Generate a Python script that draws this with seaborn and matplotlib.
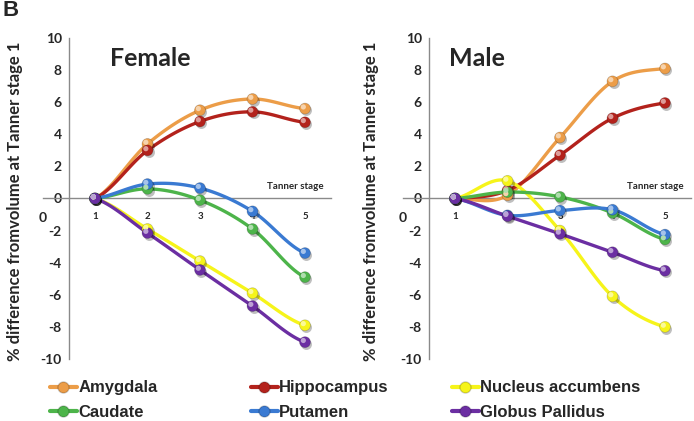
import numpy as np
import pandas as pd
import matplotlib
matplotlib.use("Agg")
import matplotlib.pyplot as plt
import matplotlib.transforms as mtransforms
import matplotlib.colors as mcolors
import seaborn as sns
from matplotlib.lines import Line2D

# ---------------- data ----------------
stages = [1, 2, 3, 4, 5]
regions = ["Amygdala", "Hippocampus", "Nucleus accumbens",
           "Caudate", "Putamen", "Globus Pallidus"]
colors = ["#EC9D48", "#B3221C", "#F6F41A", "#4DB44A", "#3A7AD2", "#6B2EA2"]

female_amygdala = [0, 3.4, 5.5, 6.2, 5.6]
female_hippocampus = [0, 3.0, 4.8, 5.4, 4.75]
female_nacc = [0, -1.9, -3.9, -5.9, -7.9]
female_caudate = [0, 0.6, -0.1, -1.9, -4.9]
female_putamen = [0, 0.9, 0.65, -0.8, -3.4]
female_gp = [0, -2.15, -4.45, -6.7, -8.95]

male_amygdala = [0, 0.2, 3.8, 7.3, 8.1]
male_hippocampus = [0, 0.5, 2.7, 5.0, 5.95]
male_nacc = [0, 1.1, -2.0, -6.1, -8.0]
male_caudate = [0, 0.4, 0.1, -0.9, -2.55]
male_putamen = [0, -1.05, -0.75, -0.7, -2.25]
male_gp = [0, -1.1, -2.2, -3.35, -4.5]

yticks = list(range(-10, 11, 2))
xtick_labels = ["0", "1", "2", "3", "4", "5"]
ylabel = "% difference fromvolume at Tanner stage 1"

female = [female_amygdala, female_hippocampus, female_nacc,
          female_caudate, female_putamen, female_gp]
male = [male_amygdala, male_hippocampus, male_nacc,
        male_caudate, male_putamen, male_gp]


def smooth(xs, ys, n=25):
    """Catmull-Rom curve through the points (Excel-like smoothed line)."""
    xs = np.asarray(xs, float)
    ys = np.asarray(ys, float)
    ox, oy = [], []
    m = len(xs)
    for i in range(m - 1):
        p0 = ys[i - 1] if i > 0 else ys[i]
        p1, p2 = ys[i], ys[i + 1]
        p3 = ys[i + 2] if i + 2 < m else ys[i + 1]
        t = np.linspace(0, 1, n, endpoint=(i == m - 2))
        y = 0.5 * (2 * p1 + (-p0 + p2) * t + (2 * p0 - 5 * p1 + 4 * p2 - p3) * t ** 2
                   + (-p0 + 3 * p1 - 3 * p2 + p3) * t ** 3)
        x = xs[i] + (xs[i + 1] - xs[i]) * t
        ox.extend(x)
        oy.extend(y)
    return np.array(ox), np.array(oy)


def lighten(c, f=0.55):
    r, g, b = mcolors.to_rgb(c)
    return (r + (1 - r) * f, g + (1 - g) * f, b + (1 - b) * f)


sns.set_style("white")
plt.rcParams["font.family"] = ["Lato", "DejaVu Sans"]

W, H = 694, 421
fig = plt.figure(figsize=(W / 100, H / 100), dpi=100)

palette = dict(zip(regions, colors))
light_palette = {r: lighten(c) for r, c in palette.items()}


def panel(left_px, series, title, title_x):
    ax = fig.add_axes([left_px / W, 1 - 359 / H, 288.75 / W, 321 / H])
    ax.set_facecolor("none")
    curves = []
    pts = []
    for r, ys in zip(regions, series):
        sx, sy = smooth(stages, ys)
        curves.append(pd.DataFrame({"x": sx, "y": sy, "region": r}))
        pts.append(pd.DataFrame({"x": stages, "y": ys, "region": r}))
    cdf = pd.concat(curves, ignore_index=True)
    pdf = pd.concat(pts, ignore_index=True)
    shadow = mtransforms.offset_copy(ax.transData, fig=fig, x=1.0, y=-1.2, units="points")
    hilite = mtransforms.offset_copy(ax.transData, fig=fig, x=-1.2, y=1.2, units="points")
    sns.lineplot(data=cdf, x="x", y="y", hue="region", palette=palette,
                 sort=False, estimator=None, lw=2.4, legend=False, ax=ax, zorder=3)
    sns.scatterplot(data=pdf, x="x", y="y", color="#00000040", s=62,
                    linewidth=0, legend=False, ax=ax, zorder=3.5, transform=shadow)
    sns.scatterplot(data=pdf, x="x", y="y", hue="region", palette=palette,
                    s=62, edgecolor="#00000030", linewidth=0.6, legend=False,
                    ax=ax, zorder=4)
    sns.scatterplot(data=pdf, x="x", y="y", hue="region", palette=light_palette,
                    s=14, linewidth=0, legend=False, ax=ax, zorder=4.5,
                    transform=hilite)
    ax.set_xlim(0, 5.5)
    ax.set_ylim(-10, 10)
    for s in ["top", "right"]:
        ax.spines[s].set_visible(False)
    ax.spines["left"].set_position(("data", 0.5))
    ax.spines["bottom"].set_position(("data", 0))
    for s in ["left", "bottom"]:
        ax.spines[s].set_color("#8a8a8a")
        ax.spines[s].set_linewidth(1.0)
    ax.set_yticks(yticks)
    ax.set_yticklabels([str(v) for v in yticks], fontsize=10, fontweight="bold")
    ax.tick_params(axis="y", direction="out", length=3, width=1, color="#8a8a8a", pad=2)
    ax.set_xticks(range(6))
    ax.set_xticklabels(xtick_labels, fontweight="bold")
    ax.tick_params(axis="x", direction="in", length=3, width=1, color="#8a8a8a", pad=10)
    for i, lab in enumerate(ax.get_xticklabels()):
        lab.set_fontsize(10 if i == 0 else 7)
    ax.xaxis.get_major_ticks()[0].tick1line.set_visible(False)
    ax.set_xlabel("")
    ax.set_ylabel("")
    ax.text(5.35, 0.45, "Tanner stage", fontsize=7, fontweight="bold",
            ha="right", va="bottom")
    fig.text(title_x / W, 1 - 58 / H, title, fontsize=18, fontweight="bold",
             ha="left", va="center")
    return ax


panel(42.5, female, "Female", 110)
panel(402.5, male, "Male", 449)

for xc in [15, 371]:
    fig.text(xc / W, 1 - 201 / H, ylabel, rotation=90, fontsize=12,
             fontweight="bold", ha="center", va="center")

fig.text(3 / W, 1 - 11 / H, "B", fontsize=16, fontweight="bold",
         family="Liberation Sans", ha="left", va="center")

# legend: three columns of two rows
cols = [(50, [0, 3]), (251, [1, 4]), (452, [2, 5])]
for xpx, idx in cols:
    handles = [Line2D([], [], color=colors[i], lw=3, marker="o", markersize=8,
                      markeredgecolor="#00000030") for i in idx]
    fig.legend(handles, [regions[i] for i in idx], loc="center left",
               bbox_to_anchor=(xpx / W, 1 - 400 / H), frameon=False,
               borderpad=0, borderaxespad=0, handlelength=1.6,
               handletextpad=0.1, labelspacing=0.55,
               prop={"family": "Liberation Sans", "weight": "bold", "size": 12})

fig.savefig("out.png", dpi=100)
